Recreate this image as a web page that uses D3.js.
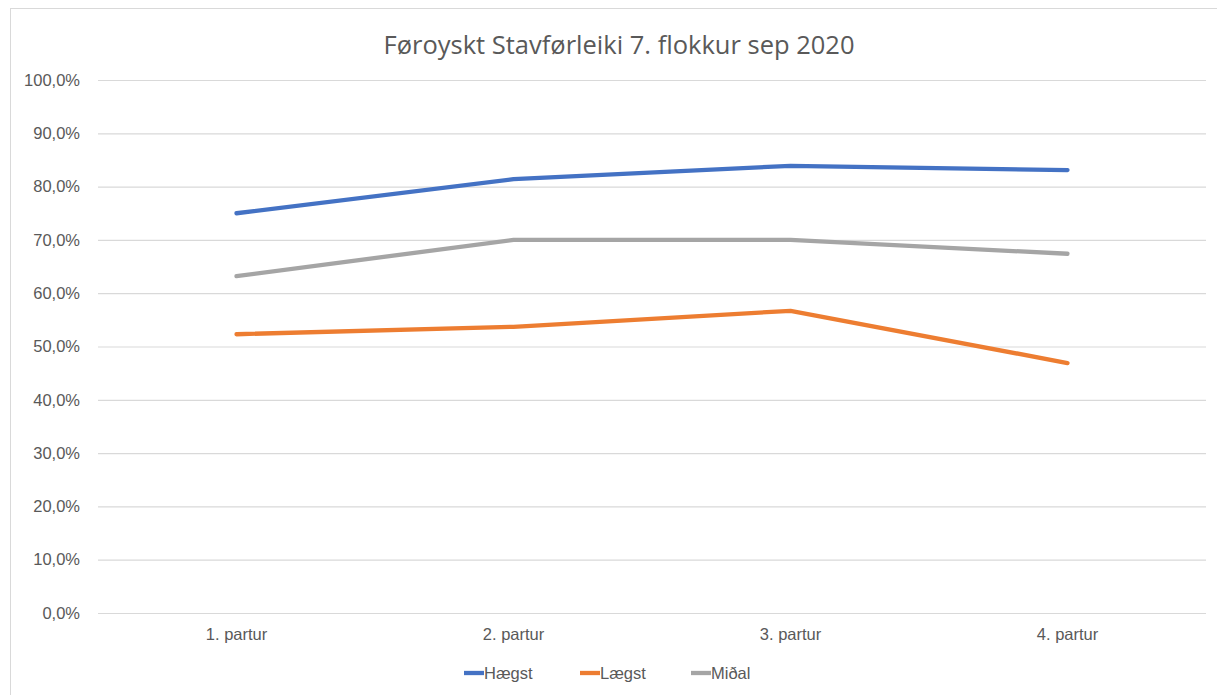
<!DOCTYPE html>
<html><head><meta charset="utf-8">
<script src="https://cdn.jsdelivr.net/npm/d3@7"></script>
<style>
html,body{margin:0;padding:0;background:#fff;}
svg{display:block;}
</style></head>
<body>
<svg id="chart" width="1217" height="695"></svg>
<script>
const title = "Føroyskt Stavførleiki 7. flokkur sep 2020";
const categories = ["1. partur", "2. partur", "3. partur", "4. partur"];
const seriesNames = ["Hægst", "Lægst", "Miðal"];
const haegst = [75.0, 81.4, 83.9, 83.1];
const laegst = [52.3, 53.7, 56.7, 46.9];
const midal = [63.2, 70.0, 70.0, 67.4];
const yTicks = [0, 10, 20, 30, 40, 50, 60, 70, 80, 90, 100];
const colors = ["#4472C4", "#ED7D31", "#A5A5A5"];

(function () {
const series = [haegst, laegst, midal];
const svg = d3.select("#chart");
const W = 1217, H = 695;
const mLeft = 98, mRight = 1206, mTop = 80, mBottom = 613;
const lblFont = "'Liberation Sans',Arial,sans-serif";

svg.append("rect").attr("x", 10.5).attr("y", 8.5).attr("width", W - 10).attr("height", H - 8)
  .attr("fill", "#fff").attr("stroke", "#d9d9d9").attr("stroke-width", 1);

const x = d3.scaleBand().domain(categories).range([mLeft, mRight]);
const y = d3.scaleLinear().domain([0, 100]).range([mBottom, mTop]);

const fmt = v => v.toFixed(1).replace(".", ",") + "%";

const yAxis = svg.append("g").attr("transform", `translate(${mLeft},0)`)
  .call(d3.axisLeft(y).tickValues(yTicks).tickSize(-(mRight - mLeft)).tickFormat(fmt).tickPadding(18));
yAxis.select(".domain").remove();
yAxis.selectAll(".tick line").attr("stroke", "#d9d9d9").attr("stroke-width", 1.2);
yAxis.selectAll(".tick text").attr("fill", "#595959")
  .style("font-family", lblFont).style("font-size", "16.5px");

const xAxis = svg.append("g").attr("transform", `translate(0,${mBottom})`)
  .call(d3.axisBottom(x).tickSize(0).tickPadding(15));
xAxis.select(".domain").remove();
xAxis.selectAll(".tick text").attr("fill", "#595959")
  .style("font-family", lblFont).style("font-size", "16.5px");

const line = d3.line().x((d, i) => x(categories[i]) + x.bandwidth() / 2).y(d => y(d));
series.forEach((s, k) => {
  svg.append("path").datum(s).attr("d", line).attr("fill", "none")
    .attr("stroke", colors[k]).attr("stroke-width", 4.3).attr("stroke-linejoin", "round").attr("stroke-linecap", "round");
});

svg.append("text").attr("x", 619).attr("y", 54).attr("text-anchor", "middle")
  .attr("fill", "#595959").style("font-family", "'Open Sans',sans-serif").style("font-size", "25.5px")
  .text(title);

const legendX = [464, 580, 691];
const lg = svg.append("g");
seriesNames.forEach((n, k) => {
  const g = lg.append("g").attr("transform", `translate(${legendX[k]},673)`);
  g.append("line").attr("x1", 0).attr("x2", 20).attr("y1", 0).attr("y2", 0)
    .attr("stroke", colors[k]).attr("stroke-width", 4.3);
  g.append("text").attr("x", 20).attr("y", 6).attr("fill", "#595959")
    .style("font-family", lblFont).style("font-size", "16.5px").text(n);
});
})();
</script>
</body></html>
